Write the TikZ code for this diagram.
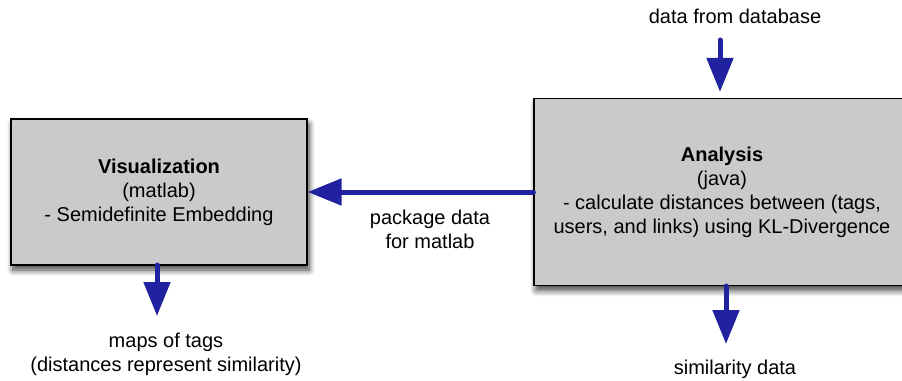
\documentclass[tikz,border=0pt]{standalone}
\usepackage{fontspec}
\setmainfont{Liberation Sans}
\usetikzlibrary{arrows.meta,shadows.blur}

\definecolor{boxgray}{RGB}{202,202,202}
\definecolor{flowblue}{RGB}{32,34,160}

\tikzset{
  stagebox/.style={draw=black, line width=0.6pt, fill=boxgray, align=center,
    blur shadow={shadow xshift=1pt, shadow yshift=-2.5pt, shadow blur radius=3pt,
      shadow blur steps=8, shadow opacity=75}},
  flow/.style={draw=flowblue, line width=2.5pt, line cap=round,
    -{Triangle[length=17pt,width=13pt]}},
  note/.style={align=center}
}

\begin{document}
\begin{tikzpicture}[x=0.5pt, y=-0.5pt, font=\fontsize{10}{12}\selectfont]
  \useasboundingbox (0,0) rectangle (902,381);
  \clip (0,0) rectangle (902,381);

  % Boxes
  \node[stagebox, minimum width=148pt, minimum height=73pt] (vis) at (159,192)
    {\textbf{Visualization}\\(matlab)\\- Semidefinite Embedding};
  \node[stagebox, minimum width=188pt, minimum height=93.5pt] (analysis) at (722,192)
    {\textbf{Analysis}\\(java)\\- calculate distances between (tags,\\users, and links) using KL-Divergence};

  % Labels
  \node[note] (dbtext) at (735,16) {data from database};
  \node[note] (pkgtext) at (430,229.5) {package data\\for matlab};
  \node[note] (mapstext) at (166,354.5) {maps of tags\\(distances represent similarity)};
  \node[note] (simtext) at (735,369) {similarity data};

  % Free ends of arrows
  \coordinate (dbin) at (720,40);
  \coordinate (visout) at (157,265);
  \coordinate (mapsin) at (157,316);
  \coordinate (simout) at (726,286);
  \coordinate (simin) at (726,344);

  % Arrows
  \draw[flow, shorten >=3pt] (dbin) -- (dbin |- analysis.north);
  \draw[flow] (analysis.west) -- (vis.east);
  \draw[flow] (visout) -- (mapsin);
  \draw[flow] (simout) -- (simin);

\end{tikzpicture}
\end{document}
